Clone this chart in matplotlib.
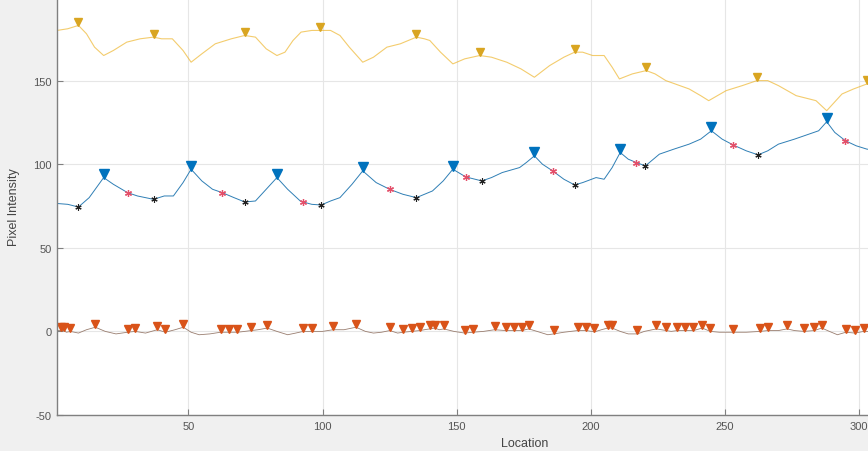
import matplotlib
matplotlib.use("Agg")
import matplotlib.pyplot as plt
from matplotlib.transforms import offset_copy

# Signal jaune (haut)
loc_jaune = [1, 5, 9, 12, 15, 18.4, 22, 27, 32, 37, 40, 44, 48, 51, 55, 60, 66, 71, 75, 79,
             83, 86, 89, 92, 96, 99, 103, 106.5, 110, 115, 119, 124, 129, 135, 138, 140, 144,
             148.6, 153, 158.6, 163, 168.7, 174, 179, 184.7, 190, 194, 197, 200.7, 205, 208,
             210.7, 215.5, 220.7, 224, 228, 236.7, 241, 244, 250.5, 256.5, 262, 266, 270,
             276.6, 284, 288, 293.7, 298, 303, 310]
val_jaune = [180, 181, 183, 178, 170, 165, 168, 173, 175, 176, 175, 175, 168, 161, 166, 172,
             175, 177, 176, 169, 165, 167, 174, 179, 180, 180, 180, 177, 170, 161, 164, 170,
             172, 176, 175, 174, 167, 160, 163, 165, 164, 161, 157, 152, 159, 164, 167, 167,
             165, 165, 158, 151, 154, 156, 154, 150, 145, 141, 138, 144, 147, 150, 150, 147,
             141, 138, 132, 142, 145, 148, 152]
pic_loc_jaune = [9, 37, 71, 99, 135, 158.6, 194, 220.7, 262, 303]
pic_val_jaune = [183, 176, 177, 180, 176, 165, 167, 156, 150, 148]

# Signal bleu (milieu)
loc_bleu = [1, 5, 9, 13, 18.4, 22, 27.3, 31, 37, 41, 44.4, 48, 51, 55, 59, 62.6, 67, 71, 75,
            79, 83, 87, 91.7, 92.8, 96, 99.5, 103, 106.5, 111, 115, 120, 125, 130, 135, 141,
            145, 148.6, 153.4, 159.4, 163, 167, 173.5, 176, 179, 182, 185.8, 190, 194, 197,
            202, 205, 208, 211, 214, 217, 220.4, 225.6, 231, 236.7, 241, 245, 249, 253, 258,
            262.4, 266, 270, 276, 281.4, 285, 288, 291, 295, 299, 303, 310]
val_bleu = [76.5, 76, 74.4, 80, 92, 88, 83, 81, 79, 81, 81, 89, 97, 90, 85, 83, 80, 77.4, 78,
            85, 92, 85, 78, 77.4, 76, 75.6, 78, 80, 88, 96, 89, 85, 82, 80, 84, 90, 97, 92.4,
            90, 92, 95, 98, 101, 105, 100, 96, 91, 87.6, 89, 92, 91, 98, 107, 103, 101, 99,
            106, 109, 112, 115, 120, 115, 111.6, 108, 105.6, 108, 112, 115, 118, 120, 125.4,
            119, 114, 111, 109, 108]
pic_loc_bleu = [18.4, 51, 83, 115, 148.6, 179, 211, 245, 288]
pic_val_bleu = [92, 97, 92, 96, 97, 105, 107, 120, 125.4]
rouge_loc = [27.3, 62.6, 92.8, 125, 153.4, 185.8, 217, 253, 295]
rouge_val = [83, 83, 77.4, 85, 92.4, 96, 101, 111.6, 114]
noir_loc = [9, 37, 71, 99.5, 135, 159.4, 194, 220.4, 262.4]
noir_val = [74.4, 79, 77.4, 75.6, 80, 90, 87.6, 99, 105.6]

# Signal orange (autour de zéro)
loc_orange = [1, 2.4, 3.5, 4.5, 6, 9, 12, 15.3, 19, 23, 27.3, 30.2, 34, 38.4, 41.4, 45, 48.1,
              51, 54, 58, 62, 65, 68.3, 71, 73.4, 76, 79.4, 83, 87, 90, 92.8, 96.1, 100, 103.9,
              108, 112.5, 116, 119, 122, 125.1, 128, 130, 133.3, 136.3, 138, 140, 141.9, 143.5,
              145.2, 149, 153, 156, 160, 164.2, 168.3, 171.3, 174.3, 176.9, 180, 184, 186.2,
              190, 195.1, 198.4, 201.4, 204, 206.3, 208, 211, 214, 217.4, 220, 224.5, 228.2,
              230, 232.3, 235.3, 238.3, 241.6, 244.6, 248, 253.1, 258, 263.2, 266.1, 270,
              273.2, 276, 279.5, 283.3, 286.2, 289, 292, 295.1, 298.5, 301.8, 306]
val_orange = [0.5, 0.5, 0.5, -0.5, 0, -1, 1, 2.5, 0, -1.5, -0.5, 0, -1, 1, -0.5, 1, 2.5,
              -0.5, -2, -1.5, -0.5, -0.5, -0.5, 0, 0.5, 1, 2, 0, -2, -1, 0, 0, 0, 1,
              1, 2.5, 0, -1, -0.5, 0.5, -1, -0.5, 0, 0.5, 1, 1.5, 2, 1,
              1.5, 0, -1, -0.5, 0, 1, 0.5, 0.5, 0.5, 1.5, 0, -2, -1.5,
              -0.5, 0.5, 0.5, -0.3, 1, 2, 2, 0, -1.5, -1.5, 0, 1.5, 0.5,
              0, 0.5, 0.5, 0.5, 2, 0, -0.5, -0.5, -0.5, 0, 0.5, 0.5,
              1.5, 0.5, 0, 0.5, 2, 0, -2, -0.5, -1, 0, 0]
pic_loc_orange = [2.4, 3.5, 6, 15.3, 27.3, 30.2, 38.4, 41.4, 48.1, 62, 65, 68.3, 73.4, 79.4,
                  92.8, 96.1, 103.9, 112.5, 125.1, 130, 133.3, 136.3, 140, 141.9, 145.2, 153,
                  156, 164.2, 168.3, 171.3, 174.3, 176.9, 186.2, 195.1, 198.4, 201.4, 206.3,
                  208, 217.4, 224.5, 228.2, 232.3, 235.3, 238.3, 241.6, 244.6, 253.1, 263.2,
                  266.1, 273.2, 279.5, 283.3, 286.2, 295.1, 298.5, 301.8]
pic_val_orange = [0.5, 0.5, 0, 2.5, -0.5, 0, 1, -0.5, 2.5, -0.5, -0.5, -0.5, 0.5, 2,
                  0, 0, 1, 2.5, 0.5, -0.5, 0, 0.5, 1.5, 2, 1.5, -1,
                  -0.5, 1, 0.5, 0.5, 0.5, 1.5, -1.5, 0.5, 0.5, -0.3, 2,
                  2, -1.5, 1.5, 0.5, 0.5, 0.5, 0.5, 2, 0, -0.5, 0,
                  0.5, 1.5, 0, 0.5, 2, -0.5, -1, 0]

plt.rcParams["font.family"] = ["Liberation Sans", "DejaVu Sans"]
plt.rcParams["axes.unicode_minus"] = False

fig = plt.figure(figsize=(8.68, 4.52), dpi=100, facecolor="#f0f0f0")
# l'axe dépasse à droite et en haut : la capture d'origine est recadrée
ax = fig.add_axes([57 / 868, 36 / 452, 936 / 868, 418 / 452])
ax.set_facecolor("white")

asterisque = (6, 2, 0)
decal = offset_copy(ax.transData, fig=fig, x=0, y=2.5, units="points")

ax.plot(loc_jaune, val_jaune, color="#EDB120", lw=0.8, alpha=0.65)
ax.plot(pic_loc_jaune, pic_val_jaune, "v", color="#D9A521", ms=6, transform=decal)

ax.plot(loc_bleu, val_bleu, color="#2f7fb5", lw=0.7)
ax.plot(pic_loc_bleu, pic_val_bleu, "v", color="#0072BD", ms=6.5, transform=decal)
ax.plot(rouge_loc, rouge_val, ls="none", marker=asterisque, color="#e4506a", ms=5, mew=0.9)
ax.plot(noir_loc, noir_val, ls="none", marker=asterisque, color="#222222", ms=4.5, mew=0.8)

ax.plot(loc_orange, val_orange, color="#9a7e70", lw=0.6)
ax.plot(pic_loc_orange, pic_val_orange, "v", color="#D95319", ms=5.5, transform=decal)

ax.set_xlim(1, 350)
ax.set_ylim(-50, 200)
ax.set_xticks([50, 100, 150, 200, 250, 300, 350])
ax.set_yticks([-50, 0, 50, 100, 150])
ax.grid(True, color="#e6e6e6", lw=0.8)
ax.set_axisbelow(True)

for cote in ["top", "right"]:
    ax.spines[cote].set_visible(False)
for cote in ["left", "bottom"]:
    ax.spines[cote].set_color("#808080")
    ax.spines[cote].set_linewidth(1.0)

ax.tick_params(direction="in", length=4, width=0.8, color="#808080",
               labelsize=8, labelcolor="#555555", pad=4)

ax.set_xlabel("Location", fontsize=9, color="#444444")
ax.set_ylabel("Pixel Intensity", fontsize=9, color="#444444")
ax.xaxis.set_label_coords(0.5, -0.052)
ax.yaxis.set_label_coords(-0.04, 0.5)

fig.savefig("out.png", dpi=100, facecolor=fig.get_facecolor())
